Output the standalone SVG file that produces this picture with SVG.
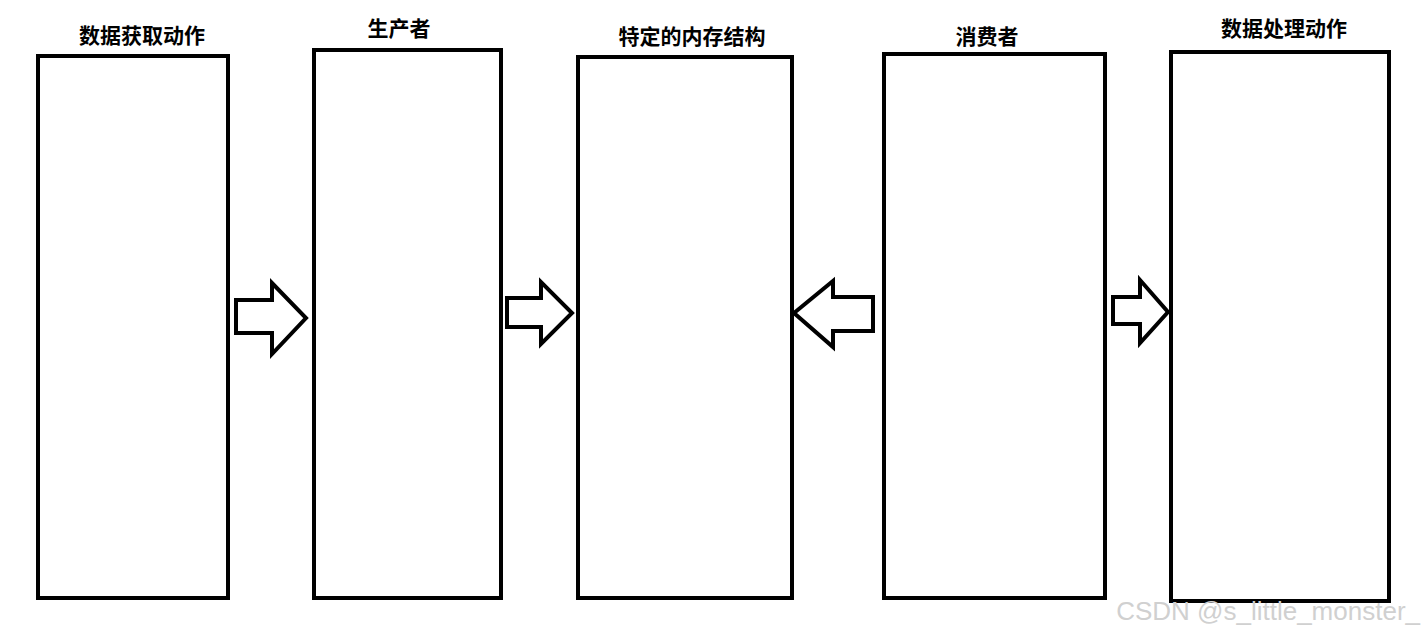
<svg xmlns="http://www.w3.org/2000/svg" width="1424" height="637" viewBox="0 0 1424 637">
<style>
.box{fill:#fff;stroke:#000;stroke-width:4}
.arr{fill:#fff;stroke:#000;stroke-width:4;stroke-linejoin:miter}
.t{font-family:"Noto Sans CJK SC","Noto Sans",sans-serif;font-weight:bold;font-size:21px;text-anchor:middle;fill:#000}
.wm{font-family:"Liberation Sans",Arial,sans-serif;font-size:26px;fill:#d0d0d0;text-anchor:end}
</style>
<rect width="1424" height="637" fill="#fff"/>
<g id="n1"><rect class="box" x="38" y="56" width="190" height="542"/><text class="t" x="142" y="43">数据获取动作</text></g>
<g id="n2"><rect class="box" x="314" y="50" width="187" height="548"/><text class="t" x="399" y="36">生产者</text></g>
<g id="n3"><rect class="box" x="578" y="57" width="214" height="541"/><text class="t" x="692" y="44">特定的内存结构</text></g>
<g id="n4"><rect class="box" x="884" y="54" width="221" height="544"/><text class="t" x="987" y="44">消费者</text></g>
<g id="n5"><rect class="box" x="1171" y="52" width="218" height="549"/><text class="t" x="1284" y="36">数据处理动作</text></g>
<g id="connectors">
<polygon class="arr" points="236,300 272,300 272,283 306,318 272,354 272,333 236,333"/>
<polygon class="arr" points="507,298 541,298 541,282 572,313 541,344 541,327 507,327"/>
<polygon class="arr" points="873,297 833,297 833,281 794,313 833,347 833,331 873,331"/>
<polygon class="arr" points="1113,297 1140,297 1140,280 1168,312 1140,343 1140,324 1113,324"/>
</g>
<text class="wm" x="1420" y="620">CSDN @s_little_monster_</text>
</svg>
